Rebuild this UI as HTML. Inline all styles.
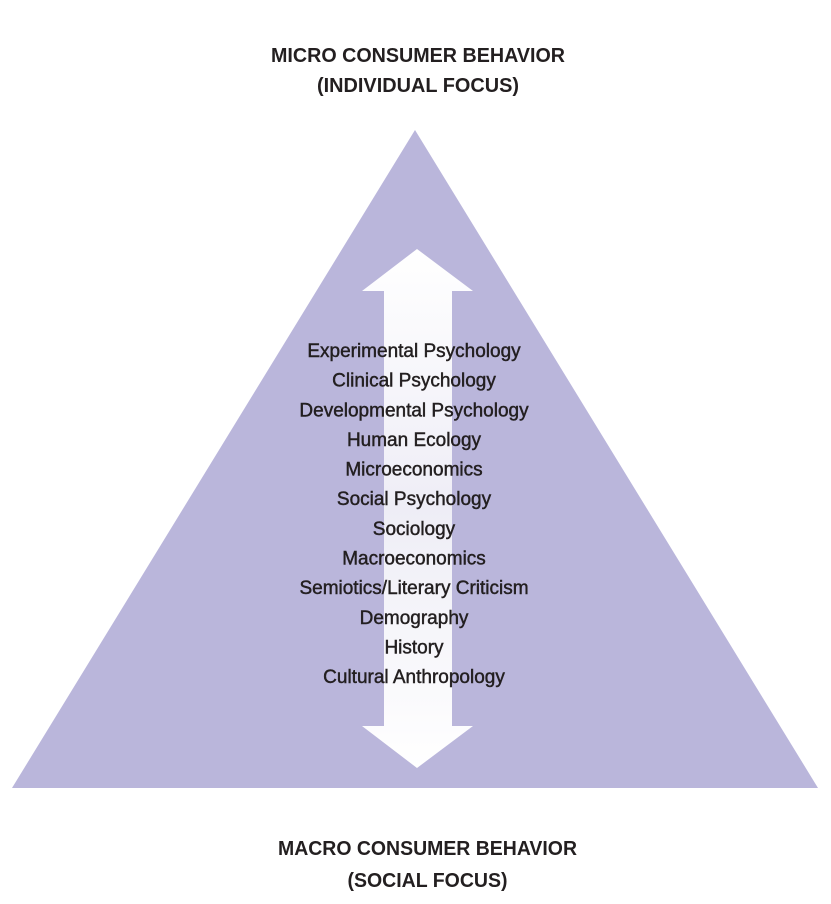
<!DOCTYPE html>
<html><head><meta charset="utf-8"><style>
html,body{margin:0;padding:0;background:#fff;}
svg{display:block;}
</style></head><body>
<svg width="831" height="904" viewBox="0 0 831 904">
<defs>
<linearGradient id="ag" x1="0" y1="0" x2="0" y2="1">
<stop offset="0" stop-color="#ffffff"/><stop offset="0.5" stop-color="#eeedf6"/><stop offset="1" stop-color="#ffffff"/>
</linearGradient>
</defs>
<text x="418" y="62" text-anchor="middle" font-family="Liberation Sans, sans-serif" font-weight="bold" font-size="20" textLength="294" lengthAdjust="spacingAndGlyphs" fill="#231f20">MICRO CONSUMER BEHAVIOR</text>
<text x="418" y="92" text-anchor="middle" font-family="Liberation Sans, sans-serif" font-weight="bold" font-size="20" textLength="202" lengthAdjust="spacingAndGlyphs" fill="#231f20">(INDIVIDUAL FOCUS)</text>
<polygon points="415,130 12,788 818,788" fill="#bab6db"/>
<polygon points="417,249 473,291 452,291 452,726 473,726 417,768 362,726 384,726 384,291 362,291" fill="url(#ag)"/>
<g id="lines" font-family="Liberation Sans, sans-serif" font-size="19" fill="#231f20" stroke="#231f20" stroke-width="0.45" text-anchor="middle"></g>
<text x="427.5" y="855" text-anchor="middle" font-family="Liberation Sans, sans-serif" font-weight="bold" font-size="20" textLength="299" lengthAdjust="spacingAndGlyphs" fill="#231f20">MACRO CONSUMER BEHAVIOR</text>
<text x="427.5" y="887" text-anchor="middle" font-family="Liberation Sans, sans-serif" font-weight="bold" font-size="20" textLength="160" lengthAdjust="spacingAndGlyphs" fill="#231f20">(SOCIAL FOCUS)</text>
</svg>
<script>
const disciplines=["Experimental Psychology","Clinical Psychology","Developmental Psychology","Human Ecology","Microeconomics","Social Psychology","Sociology","Macroeconomics","Semiotics/Literary Criticism","Demography","History","Cultural Anthropology"];
const g=document.getElementById('lines');
disciplines.forEach((d,i)=>{
  const t=document.createElementNS('http://www.w3.org/2000/svg','text');
  t.setAttribute('x',414);
  t.setAttribute('y',357+i*29.64);
  t.textContent=d;
  
  
  g.appendChild(t);
});
</script>
</body></html>
